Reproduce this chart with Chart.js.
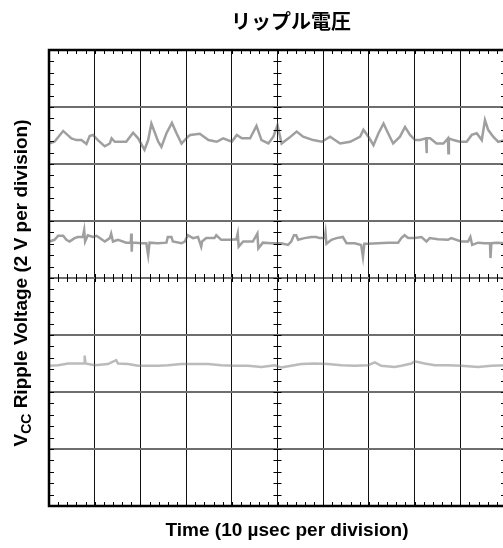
<!DOCTYPE html>
<html>
<head>
<meta charset="utf-8">
<script src="https://cdn.jsdelivr.net/npm/chart.js@4.4.0/dist/chart.umd.min.js"></script>
<style>
  html, body { margin: 0; padding: 0; background: #fff; overflow: hidden; }
  #wrap { width: 520px; height: 548px; }
</style>
</head>
<body>
<div id="wrap"><canvas id="scope" width="520" height="548"></canvas></div>
<script>
// Scope trace readings, in grid divisions (x: 10 us/div, y: 2 V/div)
const trace1Time = [0, 0.12, 0.31, 0.49, 0.6, 0.71, 0.82, 0.89, 0.96, 1.07, 1.22, 1.33, 1.37, 1.44, 1.69, 1.84, 1.95, 2.09, 2.17, 2.24, 2.39, 2.46, 2.57, 2.69, 2.79, 2.9, 3.04,
  3.09, 3.3, 3.49, 3.67, 3.81, 4.0, 4.11, 4.22, 4.4, 4.54, 4.65, 4.8, 4.91, 5.0, 5.09, 5.24, 5.42, 5.56, 5.78, 5.97, 6.15, 6.37,
  6.59, 6.81, 6.88, 6.99, 7.1, 7.21, 7.32, 7.42, 7.53, 7.68, 7.79, 7.9, 8.01, 8.12, 8.25, 8.26, 8.27, 8.34, 8.48, 8.63, 8.73, 8.74, 8.75, 8.85, 8.99, 9.14, 9.25, 9.36, 9.47, 9.54, 9.61, 9.72, 9.83, 10];
const trace1Volt = [6.36, 6.39, 6.58, 6.45, 6.42, 6.42, 6.35, 6.49, 6.51, 6.42, 6.31, 6.36, 6.45, 6.39, 6.39, 6.55, 6.45, 6.25, 6.42, 6.71, 6.39, 6.3, 6.54, 6.72, 6.54, 6.36, 6.48,
  6.51, 6.53, 6.42, 6.39, 6.45, 6.39, 6.51, 6.45, 6.45, 6.67, 6.42, 6.36, 6.48, 6.68, 6.36, 6.45, 6.57, 6.48, 6.42, 6.39, 6.48, 6.36,
  6.39, 6.48, 6.6, 6.48, 6.33, 6.54, 6.71, 6.54, 6.36, 6.48, 6.65, 6.51, 6.42, 6.42, 6.45, 6.19, 6.45, 6.45, 6.36, 6.36, 6.45, 6.19, 6.45, 6.42, 6.39, 6.39, 6.51, 6.54, 6.42, 6.77, 6.6, 6.48, 6.39, 6.42];

const trace2Time = [0, 0.12, 0.2, 0.31, 0.38, 0.45, 0.56, 0.63, 0.74, 0.77, 0.79, 0.85, 0.96, 1.04, 1.11, 1.22, 1.33, 1.36, 1.4, 1.51, 1.69, 1.79, 1.8, 1.81, 1.82, 1.89, 2.02, 2.13, 2.17, 2.2, 2.38, 2.57, 2.6, 2.68, 2.71, 2.9, 2.97,
  3.04, 3.15, 3.26, 3.33, 3.35, 3.44, 3.62, 3.66, 3.77, 3.95, 4.1, 4.13, 4.15, 4.25, 4.46, 4.56, 4.58, 4.68, 4.86, 4.97, 5.08, 5.23, 5.3, 5.36, 5.41, 5.45, 5.59, 5.74, 5.85, 5.92,
  6.03, 6.05, 6.07, 6.18, 6.29, 6.43, 6.51, 6.69, 6.83, 6.87, 6.9, 6.98, 7.2, 7.42, 7.64, 7.71, 7.78, 7.86, 8.0, 8.15, 8.26, 8.33, 8.51, 8.73, 8.8, 9.02, 9.17, 9.22, 9.26, 9.39, 9.53, 9.65, 9.66, 9.68, 9.79, 10];
const trace2Volt = [4.64, 4.67, 4.74, 4.74, 4.67, 4.64, 4.7, 4.72, 4.72, 4.84, 4.64, 4.75, 4.72, 4.74, 4.7, 4.64, 4.7, 4.78, 4.64, 4.67, 4.62, 4.62, 4.78, 4.46, 4.62, 4.62, 4.61, 4.61, 4.4, 4.62, 4.61, 4.62, 4.72, 4.72, 4.64, 4.61, 4.64,
  4.75, 4.7, 4.72, 4.55, 4.64, 4.7, 4.7, 4.75, 4.67, 4.67, 4.68, 4.78, 4.55, 4.64, 4.64, 4.78, 4.52, 4.62, 4.61, 4.61, 4.61, 4.58, 4.64, 4.75, 4.75, 4.67, 4.7, 4.72, 4.72, 4.7,
  4.7, 4.8, 4.6, 4.67, 4.7, 4.72, 4.61, 4.61, 4.58, 4.37, 4.6, 4.6, 4.61, 4.62, 4.62, 4.7, 4.75, 4.7, 4.7, 4.72, 4.64, 4.7, 4.68, 4.67, 4.7, 4.64, 4.64, 4.72, 4.58, 4.62, 4.61, 4.61, 4.35, 4.61, 4.62, 4.61];

const trace3Time = [0, 0.2, 0.42, 0.63, 0.77, 0.78, 0.8, 1.0, 1.29, 1.47, 1.51, 1.73, 1.95, 2.17, 2.39, 2.6, 2.9, 3.19, 3.48, 3.77, 4.06, 4.35, 4.65, 4.94, 5.08, 5.3, 5.52, 5.81, 6.1, 6.4, 6.69, 6.98, 7.13, 7.27, 7.56, 7.71, 7.93, 8.0, 8.22, 8.44, 8.73, 9.02, 9.39, 9.68, 10];
const trace3Volt = [2.46, 2.47, 2.5, 2.5, 2.5, 2.64, 2.5, 2.47, 2.49, 2.56, 2.5, 2.49, 2.46, 2.46, 2.46, 2.47, 2.49, 2.49, 2.49, 2.47, 2.46, 2.46, 2.44, 2.47, 2.43, 2.46, 2.49, 2.5, 2.49, 2.47, 2.46, 2.47, 2.52, 2.46, 2.44, 2.46, 2.5, 2.54, 2.5, 2.47, 2.47, 2.46, 2.44, 2.46, 2.47];

const xDivisions = 10;
const yDivisions = 8;
const minorPerDiv = 5;

const chartTitle = 'リップル電圧';
const xTitle = 'Time (10 \u00b5sec per division)';
const yTitleMain = 'V';
const yTitleSub = 'CC';
const yTitleRest = ' Ripple Voltage (2 V per division)';

function toPoints(xs, ys) {
  return xs.map((x, i) => ({ x: x, y: ys[i] }));
}

// graticule ticks, frame and the axis texts
const scopeDecor = {
  id: 'scopeDecor',
  afterDraw(chart) {
    const { ctx, chartArea: a, scales: { x, y } } = chart;
    const len = 4;
    const cx = x.getPixelForValue(xDivisions / 2);
    const cy = y.getPixelForValue(yDivisions / 2);
    ctx.save();
    ctx.strokeStyle = '#000';
    ctx.lineWidth = 1;
    ctx.beginPath();
    for (let i = 0; i <= xDivisions * minorPerDiv; i++) {
      const px = Math.round(x.getPixelForValue(i / minorPerDiv)) + 0.5;
      ctx.moveTo(px, a.top); ctx.lineTo(px, a.top + len);
      ctx.moveTo(px, a.bottom); ctx.lineTo(px, a.bottom - len);
      ctx.moveTo(px, cy - len); ctx.lineTo(px, cy + len);
    }
    for (let i = 0; i <= yDivisions * minorPerDiv; i++) {
      const py = Math.round(y.getPixelForValue(i / minorPerDiv)) + 0.5;
      ctx.moveTo(a.left, py); ctx.lineTo(a.left + len + 1, py);
      ctx.moveTo(a.right, py); ctx.lineTo(a.right - len - 1, py);
      ctx.moveTo(cx - len, py); ctx.lineTo(cx + len, py);
    }
    ctx.stroke();

    ctx.lineWidth = 2.5;
    ctx.strokeRect(a.left, a.top, a.right - a.left, a.bottom - a.top);

    ctx.fillStyle = '#000';
    ctx.textAlign = 'center';
    ctx.textBaseline = 'middle';
    ctx.font = 'bold 20px "Noto Sans CJK JP", sans-serif';
    ctx.fillText(chartTitle, 291, 21);
    ctx.font = 'bold 19px "Liberation Sans", Arial, sans-serif';
    ctx.fillText(xTitle, 287, 531);

    // rotated y title with subscript
    ctx.translate(21, 283);
    ctx.rotate(-Math.PI / 2);
    const big = 'bold 19px "Liberation Sans", Arial, sans-serif';
    const small = 'bold 14px "Liberation Sans", Arial, sans-serif';
    ctx.font = big;
    const w1 = ctx.measureText(yTitleMain).width;
    const w3 = ctx.measureText(yTitleRest).width;
    ctx.font = small;
    const w2 = ctx.measureText(yTitleSub).width;
    let sx = -(w1 + w2 + w3) / 2;
    ctx.textAlign = 'left';
    ctx.textBaseline = 'alphabetic';
    ctx.font = big;
    ctx.fillText(yTitleMain, sx, 6);
    ctx.font = small;
    ctx.fillText(yTitleSub, sx + w1, 10);
    ctx.font = big;
    ctx.fillText(yTitleRest, sx + w1 + w2, 6);
    ctx.restore();
  }
};

const traceStyle = {
  borderWidth: 2.5,
  pointRadius: 0,
  tension: 0,
  fill: false
};

const ctx = document.getElementById('scope').getContext('2d');
const scopeChart = new Chart(ctx, {
  type: 'line',
  data: {
    datasets: [
      Object.assign({ label: 'trace 1', data: toPoints(trace1Time, trace1Volt), borderColor: 'rgba(80,80,80,0.55)' }, traceStyle),
      Object.assign({ label: 'trace 2', data: toPoints(trace2Time, trace2Volt), borderColor: 'rgba(80,80,80,0.55)' }, traceStyle),
      Object.assign({ label: 'trace 3', data: toPoints(trace3Time, trace3Volt), borderColor: 'rgba(120,120,120,0.5)' }, traceStyle)
    ]
  },
  options: {
    responsive: false,
    animation: false,
    devicePixelRatio: 1,
    layout: { padding: { left: 49, right: 14, top: 50, bottom: 42 } },
    plugins: {
      legend: { display: false },
      tooltip: { enabled: false }
    },
    scales: {
      x: {
        type: 'linear',
        min: 0,
        max: xDivisions,
        ticks: { display: false, stepSize: 1 },
        grid: { color: '#111', lineWidth: 1, drawTicks: false },
        border: { display: false }
      },
      y: {
        min: 0,
        max: yDivisions,
        ticks: { display: false, stepSize: 1 },
        grid: { color: '#6e6e6e', lineWidth: 2, drawTicks: false },
        border: { display: false }
      }
    }
  },
  plugins: [scopeDecor]
});
</script>
</body>
</html>
